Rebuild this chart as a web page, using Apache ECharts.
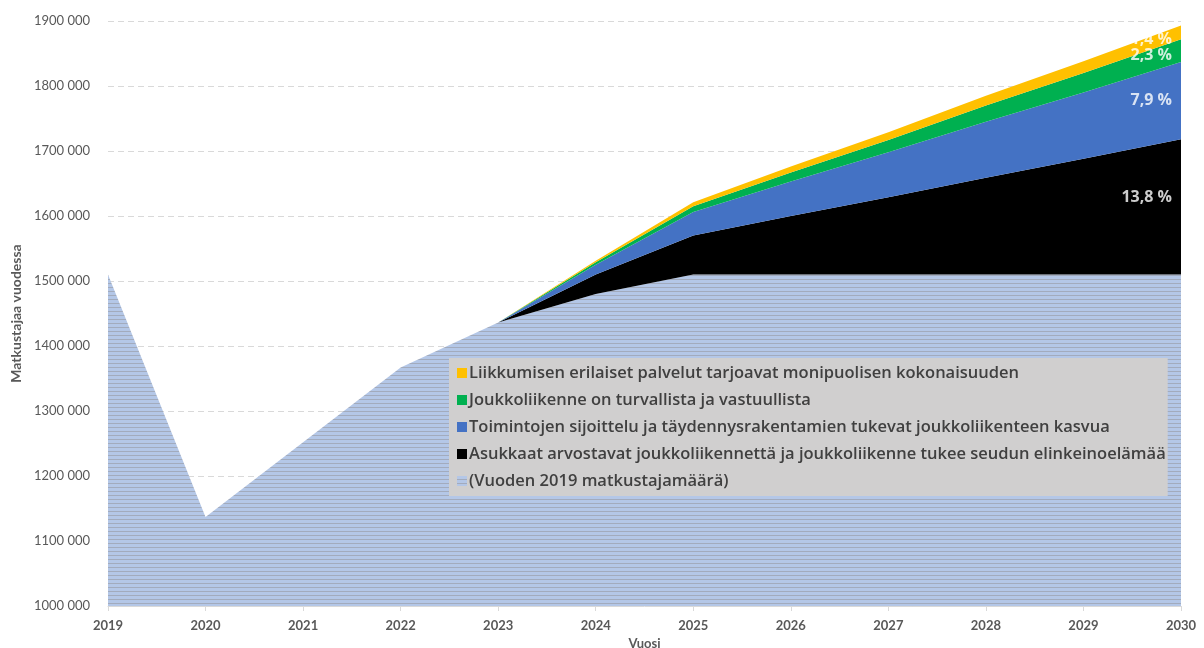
<!DOCTYPE html>
<html>
<head>
<meta charset="utf-8">
<script src="https://cdn.jsdelivr.net/npm/echarts@6.0.0/dist/echarts.min.js"></script>
<style>
  html, body { margin: 0; padding: 0; background: #ffffff; }
  #chart { width: 1204px; height: 648px; }
</style>
</head>
<body>
<div id="chart"></div>
<script>
// Years on the x axis
const years = ['2019', '2020', '2021', '2022', '2023', '2024', '2025', '2026', '2027', '2028', '2029', '2030'];

// Passenger volume at the 2019 level (base layer)
const perustaso = [1510000, 1137000, 1252000, 1367000, 1436000, 1480000, 1510000, 1510000, 1510000, 1510000, 1510000, 1510000];
// Growth contributions stacked on top of the base
const asukkaat = [null, null, null, null, 0, 30000, 60000, 90000, 119000, 149000, 178000, 208000];
const toiminnot = [null, null, null, null, 0, 15000, 36000, 53000, 69000, 86000, 102000, 119000];
const turvallisuus = [null, null, null, null, 0, 4000, 9000, 14000, 19000, 25000, 30000, 35000];
const palvelut = [null, null, null, null, 0, 2000, 6000, 9000, 12000, 15000, 18000, 21000];

const names = {
  palvelut: 'Liikkumisen erilaiset palvelut tarjoavat monipuolisen kokonaisuuden',
  turvallisuus: 'Joukkoliikenne on turvallista ja vastuullista',
  toiminnot: 'Toimintojen sijoittelu ja täydennysrakentamien tukevat joukkoliikenteen kasvua',
  asukkaat: 'Asukkaat arvostavat joukkoliikennettä ja joukkoliikenne tukee seudun elinkeinoelämää',
  perus: '(Vuoden 2019 matkustajamäärä)'
};

// Y axis tick labels
const yTicks = { min: 1000000, max: 1900000, step: 100000 };

const FONT = 'Lato, "Open Sans", sans-serif';
const WIDE_FONT = '"Open Sans", Lato, sans-serif';

// Horizontal hatch used for the base layer
function hatch() {
  const c = document.createElement('canvas');
  c.width = 8; c.height = 4;
  const g = c.getContext('2d');
  g.fillStyle = '#b4c7e7';
  g.fillRect(0, 0, 8, 4);
  g.fillStyle = '#a2abbd';
  g.fillRect(0, 3, 8, 1);
  return { image: c, repeat: 'repeat' };
}
const hatchFill = hatch();

function areaSeries(name, data, color) {
  return {
    name: name,
    type: 'line',
    stack: 'total',
    data: data,
    symbol: 'none',
    smooth: false,
    lineStyle: { width: 0 },
    itemStyle: { color: color },
    areaStyle: { color: color, opacity: 1 },
    emphasis: { disabled: true },
    z: 2
  };
}

// Percent labels at the 2030 end, placed at the middle of each band
const last = years.length - 1;
const baseRef = perustaso[0];
const layers = [asukkaat, toiminnot, turvallisuus, palvelut];
const labelOffsets = [[0, -9], [0, 0], [0, 5], [0, 7]];
let cum = perustaso[last];
const labelPoints = layers.map((arr, i) => {
  const v = arr[last];
  const mid = cum + v / 2;
  cum += v;
  const pct = (v / baseRef * 100).toFixed(1).replace('.', ',') + ' %';
  return {
    value: [years[last], mid],
    label: { formatter: pct, offset: labelOffsets[i] }
  };
});

const chart = echarts.init(document.getElementById('chart'), null, { renderer: 'canvas' });

chart.setOption({
  animation: false,
  textStyle: { fontFamily: FONT },
  grid: { left: 108, right: 23, top: 21, bottom: 42, containLabel: false, outerBoundsMode: 'none' },
  legend: {
    orient: 'vertical',
    left: 449,
    top: 358,
    backgroundColor: '#d0cfcf',
    padding: [6, 2, 6, 8],
    itemWidth: 10,
    itemHeight: 10,
    itemGap: 9,
    icon: 'rect',
    data: [names.palvelut, names.turvallisuus, names.toiminnot, names.asukkaat, names.perus],
    textStyle: { color: '#404040', fontSize: 16.5, fontWeight: 600, fontFamily: WIDE_FONT, lineHeight: 18, padding: [0, 0, 0, -3] }
  },
  xAxis: {
    type: 'category',
    data: years,
    boundaryGap: false,
    name: 'Vuosi',
    nameLocation: 'middle',
    nameGap: 29,
    nameTextStyle: { color: '#595959', fontSize: 13, fontWeight: 'bold' },
    axisLine: { lineStyle: { color: '#d9d9d9', width: 1 } },
    axisTick: { show: true, alignWithLabel: true, length: 5, lineStyle: { color: '#d9d9d9' } },
    axisLabel: { color: '#595959', fontSize: 13, fontWeight: 'bold', margin: 13 },
    splitLine: { show: false },
    z: 5
  },
  yAxis: {
    type: 'value',
    min: yTicks.min,
    max: yTicks.max,
    interval: yTicks.step,
    name: 'Matkustajaa vuodessa',
    nameLocation: 'middle',
    nameGap: 83,
    nameTextStyle: { color: '#595959', fontSize: 14, fontWeight: 'bold' },
    axisLine: { show: false },
    axisTick: { show: false },
    axisLabel: {
      color: '#595959',
      fontSize: 13,
      margin: 18,
      formatter: v => Math.floor(v / 1000) + ' ' + String(v % 1000).padStart(3, '0')
    },
    splitLine: { show: true, lineStyle: { color: '#d9d9d9', type: [6, 4], width: 1 } }
  },
  series: [
    areaSeries(names.perus, perustaso, hatchFill),
    areaSeries(names.asukkaat, asukkaat, '#000000'),
    areaSeries(names.toiminnot, toiminnot, '#4472c4'),
    areaSeries(names.turvallisuus, turvallisuus, '#00b050'),
    areaSeries(names.palvelut, palvelut, '#ffc000'),
    {
      type: 'scatter',
      data: labelPoints,
      symbolSize: 0,
      silent: true,
      z: 10,
      label: {
        show: true,
        position: 'left',
        distance: 9,
        color: '#ffffff',
        fontSize: 16,
        fontWeight: 'bold',
        fontFamily: WIDE_FONT
      }
    }
  ]
});
</script>
</body>
</html>
